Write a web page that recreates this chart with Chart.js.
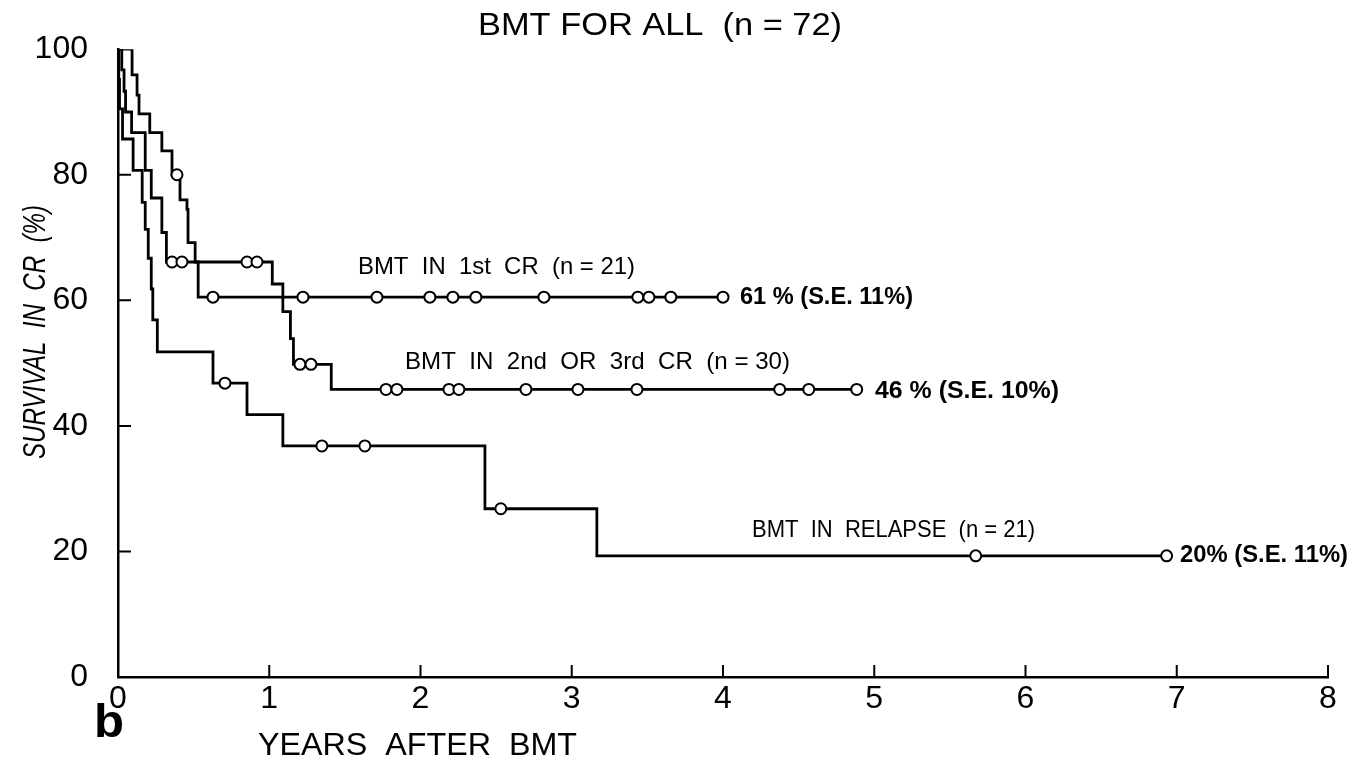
<!DOCTYPE html>
<html>
<head>
<meta charset="utf-8">
<script src="https://cdn.jsdelivr.net/npm/chart.js@4.4.1/dist/chart.umd.min.js"></script>
<style>
  body { margin: 0; background: #fff; }
  canvas { display: block; }
</style>
</head>
<body>
<canvas id="km" width="1353" height="763"></canvas>
<script>
// Kaplan-Meier steps: time (years) of each drop and survival (%) after it
const firstCrT = [0, 0.093, 0.126, 0.139, 0.21, 0.29, 0.357, 0.41, 0.456, 0.463, 0.51, 0.53, 4.0];
const firstCrS = [100, 95.9, 92.7, 89.7, 86.7, 83.8, 80, 76, 74.5, 69.2, 66.1, 60.5, 60.5];
const firstCrCensT = [0.39, 0.628, 1.223, 1.712, 2.062, 2.214, 2.366, 2.816, 3.437, 3.51, 3.655, 4.0];
const firstCrCensS = [80, 60.5, 60.5, 60.5, 60.5, 60.5, 60.5, 60.5, 60.5, 60.5, 60.5, 60.5];

const secondCrT = [0, 0.025, 0.04, 0.05, 0.09, 0.18, 0.22, 0.29, 0.32, 1.02, 1.09, 1.14, 1.16, 1.41, 4.884];
const secondCrS = [100, 96.7, 93.3, 90, 86.7, 80.7, 76.3, 70.8, 66.1, 62.6, 58.2, 53.9, 49.8, 45.8, 45.8];
const secondCrCensT = [0.357, 0.423, 0.853, 0.919, 1.203, 1.276, 1.772, 1.844, 2.188, 2.254, 2.697, 3.041, 3.431, 4.375, 4.567, 4.884];
const secondCrCensS = [66.1, 66.1, 66.1, 66.1, 49.8, 49.8, 45.8, 45.8, 45.8, 45.8, 45.8, 45.8, 45.8, 45.8, 45.8, 45.8];

const relapseT = [0, 0.005, 0.01, 0.03, 0.1, 0.16, 0.18, 0.2, 0.22, 0.23, 0.26, 0.628, 0.853, 1.09, 2.426, 3.166, 6.933];
const relapseS = [100, 95.2, 90.5, 85.7, 80.7, 75.6, 71.3, 66.7, 61.8, 56.9, 51.8, 46.8, 41.8, 36.8, 26.8, 19.3, 19.3];
const relapseCensT = [0.707, 1.348, 1.632, 2.531, 5.671, 6.933];
const relapseCensS = [46.8, 36.8, 36.8, 26.8, 19.3, 19.3];

const xMax = 8;
const yMax = 100;

function pts(xs, ys) {
    return xs.map((x, i) => ({ x: x, y: ys[i] }));
}

function stepLine(xs, ys) {
    return {
        type: 'line',
        data: pts(xs, ys),
        stepped: 'before',
        borderColor: '#000',
        borderWidth: 2.8,
        pointRadius: 0,
        fill: false,
        order: 2
    };
}

function censMarks(xs, ys) {
    return {
        type: 'scatter',
        data: pts(xs, ys),
        showLine: false,
        pointStyle: 'circle',
        pointRadius: 5.5,
        pointBackgroundColor: '#fff',
        pointBorderColor: '#000',
        pointBorderWidth: 2,
        order: 1
    };
}

const FONT = '"Liberation Sans", Arial, sans-serif';

// draw a string squeezed/stretched to a given width
function fitText(ctx, str, left, midY, size, width, weight, style) {
    ctx.save();
    ctx.font = (style || 'normal') + ' ' + (weight || 'normal') + ' ' + size + 'px ' + FONT;
    const w = ctx.measureText(str).width;
    ctx.translate(left, midY);
    ctx.scale(width / w, 1);
    ctx.fillStyle = '#000';
    ctx.textBaseline = 'middle';
    ctx.textAlign = 'left';
    ctx.fillText(str, 0, 0);
    ctx.restore();
}

const texts = [
    { s: 'BMT FOR ALL  (n = 72)', x: 478, y: 26, size: 31, w: 364 },
    { s: 'BMT  IN  1st  CR  (n = 21)', x: 358, y: 267, size: 24, w: 277 },
    { s: '61 % (S.E. 11%)', x: 740, y: 297, size: 24, w: 173, weight: 'bold' },
    { s: 'BMT  IN  2nd  OR  3rd  CR  (n = 30)', x: 405, y: 362, size: 24, w: 385 },
    { s: '46 % (S.E. 10%)', x: 875, y: 391, size: 24, w: 184, weight: 'bold' },
    { s: 'BMT  IN  RELAPSE  (n = 21)', x: 752, y: 530, size: 24, w: 283 },
    { s: '20% (S.E. 11%)', x: 1180, y: 555, size: 24, w: 168, weight: 'bold' },
    { s: 'YEARS  AFTER  BMT', x: 258, y: 746, size: 31, w: 319 },
    { s: 'b', x: 94, y: 724, size: 46, w: 30, weight: 'bold' }
];

const decorations = {
    id: 'decorations',
    afterDraw(chart) {
        const ctx = chart.ctx;
        const xs = chart.scales.x;
        const ys = chart.scales.y;
        const area = chart.chartArea;

        // inward tick marks
        ctx.save();
        ctx.strokeStyle = '#000';
        ctx.lineWidth = 2;
        ctx.beginPath();
        for (let v = 20; v < yMax; v += 20) {
            const py = ys.getPixelForValue(v);
            ctx.moveTo(area.left, py);
            ctx.lineTo(area.left + 13, py);
        }
        for (let v = 1; v <= xMax; v++) {
            const px = xs.getPixelForValue(v);
            ctx.moveTo(px, area.bottom);
            ctx.lineTo(px, area.bottom - 12);
        }
        ctx.stroke();
        ctx.restore();

        texts.forEach(t => fitText(ctx, t.s, t.x, t.y, t.size, t.w, t.weight));

        // y axis title, rotated
        ctx.save();
        ctx.translate(36, 332);
        ctx.rotate(-Math.PI / 2);
        fitText(ctx, 'SURVIVAL  IN  CR  (%)', -127, 0, 31, 254, 'normal', 'italic');
        ctx.restore();
    }
};

new Chart(document.getElementById('km'), {
    type: 'line',
    data: {
        datasets: [
            censMarks(firstCrCensT, firstCrCensS),
            censMarks(secondCrCensT, secondCrCensS),
            censMarks(relapseCensT, relapseCensS),
            stepLine(firstCrT, firstCrS),
            stepLine(secondCrT, secondCrS),
            stepLine(relapseT, relapseS)
        ]
    },
    options: {
        responsive: false,
        animation: false,
        devicePixelRatio: 1,
        layout: { padding: { left: 0, right: 25, top: 46, bottom: 0 } },
        plugins: {
            legend: { display: false },
            tooltip: { enabled: false }
        },
        scales: {
            x: {
                type: 'linear',
                min: 0,
                max: xMax,
                grid: { display: false, drawTicks: false, tickLength: 0 },
                border: { display: true, color: '#000', width: 2.5 },
                ticks: {
                    stepSize: 1,
                    color: '#000',
                    padding: 3,
                    font: { family: FONT, size: 32 }
                },
                afterFit(scale) { scale.height = 86; }
            },
            y: {
                type: 'linear',
                min: 0,
                max: yMax,
                grid: { display: false, drawTicks: false, tickLength: 0 },
                border: { display: true, color: '#000', width: 2.5 },
                ticks: {
                    stepSize: 20,
                    color: '#000',
                    padding: 30,
                    font: { family: FONT, size: 32 }
                },
                afterFit(scale) { scale.width = 118; }
            }
        }
    },
    plugins: [decorations]
});
</script>
</body>
</html>
